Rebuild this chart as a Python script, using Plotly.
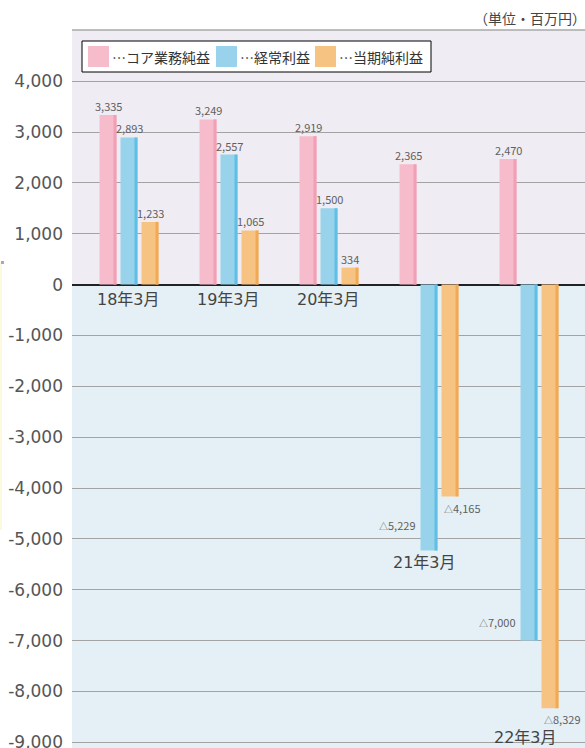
import plotly.graph_objects as go

# ---------------- data ----------------
categories = ["18年3月", "19年3月", "20年3月", "21年3月", "22年3月"]
series_names = ["コア業務純益", "経常利益", "当期純利益"]
core_profit = [3335, 3249, 2919, 2365, 2470]
ordinary_profit = [2893, 2557, 1500, -5229, -7000]
net_profit = [1233, 1065, 334, -4165, -8329]
y_ticks = [4000, 3000, 2000, 1000, 0, -1000, -2000, -3000, -4000, -5000, -6000, -7000, -8000, -9000]
unit_label = "（単位・百万円）"

# ---------------- styling ----------------
series_values = [core_profit, ordinary_profit, net_profit]
fill_colors = ["#f7bccb", "#98d3eb", "#f7c383"]
edge_colors = ["#f19fb4", "#5fbfe4", "#f0aa55"]
offsets = [-0.21, 0.0, 0.21]
BW = 0.17
EDGE = 0.03
FONT = "Noto Sans CJK JP, Noto Sans, sans-serif"
FONT_WIDE = "DejaVu Sans, Noto Sans CJK JP, sans-serif"
TXT = "#555555"
VAL_TXT = "#5f5f5f"

# plot-area geometry (pixels)
W, H = 585, 748
L, T = 72, 30
PW, PH = W - L, H - T
PX_PER_K = 50.85
ZERO_PX = 284.6
YMAX = (ZERO_PX - T) / PX_PER_K * 1000
YMIN = -(H - ZERO_PX) / PX_PER_K * 1000

fig = go.Figure()

for k in range(3):
    fig.add_trace(go.Bar(
        x=list(range(len(categories))), y=series_values[k], name=series_names[k],
        width=BW, offset=offsets[k] - BW / 2,
        marker=dict(color=fill_colors[k], line=dict(width=0)),
        showlegend=False, hoverinfo="y",
    ))
    fig.add_trace(go.Bar(
        x=list(range(len(categories))), y=series_values[k], name=series_names[k] + "_edge",
        width=EDGE, offset=offsets[k] + BW / 2 - EDGE,
        marker=dict(color=edge_colors[k], line=dict(width=0)),
        showlegend=False, hoverinfo="skip",
    ))

annotations = []

# value labels
neg_place = {
    (1, 3): dict(dx=-0.115, xanchor="right", yanchor="middle", yshift=25),
    (2, 3): dict(dx=-0.085, xanchor="left", yanchor="top", yshift=-2),
    (1, 4): dict(dx=-0.115, xanchor="right", yanchor="middle", yshift=19),
    (2, 4): dict(dx=-0.085, xanchor="left", yanchor="top", yshift=-1),
}
for k in range(3):
    for i, v in enumerate(series_values[k]):
        cx = i + offsets[k]
        if v >= 0:
            annotations.append(dict(
                x=cx, y=v, xref="x", yref="y", text=f"{v:,}", showarrow=False,
                xanchor="center", yanchor="bottom", yshift=-1,
                font=dict(family=FONT, size=11, color=VAL_TXT),
            ))
        else:
            p = neg_place[(k, i)]
            annotations.append(dict(
                x=cx + p["dx"], y=v,
                xref="x", yref="y",
                text=f"<span style='font-size:9px'>△</span>{abs(v):,}",
                showarrow=False,
                xanchor=p["xanchor"], yanchor=p["yanchor"], yshift=p["yshift"],
                font=dict(family=FONT, size=11, color=VAL_TXT),
            ))

# category labels
cat_yshift = [-3, -3, -3, -1, -18]
cat_xshift = [-1, -1, -1, -5, -4]
for i, c in enumerate(categories):
    low = min(0, core_profit[i], ordinary_profit[i], net_profit[i])
    annotations.append(dict(
        x=i, y=low, xref="x", yref="y", text=c, showarrow=False,
        xanchor="center", yanchor="top", yshift=cat_yshift[i], xshift=cat_xshift[i],
        font=dict(family=FONT_WIDE, size=16, color="#444444"),
    ))

# unit label
annotations.append(dict(
    x=1, y=(H - 18) / PH, xref="paper", yref="paper", text=unit_label, showarrow=False,
    xanchor="right", yanchor="middle", xshift=3,
    font=dict(family=FONT, size=14, color="#444444"),
))

def px(xp):
    return (xp - L) / PW

def py(yp):
    return (H - yp) / PH

shapes = [
    # backgrounds
    dict(type="rect", xref="paper", yref="y", x0=0, x1=1, y0=0, y1=YMAX,
         fillcolor="#efecf3", line=dict(width=0), layer="below"),
    dict(type="rect", xref="paper", yref="y", x0=0, x1=1, y0=YMIN, y1=0,
         fillcolor="#e4f0f6", line=dict(width=0), layer="below"),
    # top border
    dict(type="line", xref="paper", yref="paper", x0=0, x1=1, y0=1, y1=1,
         line=dict(color="#a8a8a8", width=1.5)),
    # left decoration
    dict(type="rect", xref="paper", yref="paper", x0=px(0), x1=px(2), y0=py(530), y1=py(262),
         fillcolor="#fdf9dc", line=dict(width=0)),
    dict(type="rect", xref="paper", yref="paper", x0=px(1), x1=px(4), y0=py(264), y1=py(261),
         fillcolor="#a9a4cf", line=dict(width=0)),
]

# manual legend
shapes.append(dict(type="rect", xref="paper", yref="paper",
                   x0=px(82), x1=px(431), y0=py(72), y1=py(41),
                   fillcolor="white", line=dict(color="black", width=1)))
sw_x = [88, 216, 315]
for k in range(3):
    shapes.append(dict(type="rect", xref="paper", yref="paper",
                       x0=px(sw_x[k]), x1=px(sw_x[k] + 21), y0=py(67), y1=py(46),
                       fillcolor=fill_colors[k], line=dict(width=0)))
    annotations.append(dict(
        x=px(sw_x[k] + 22), y=py(56.5), xref="paper", yref="paper",
        text="…" + series_names[k], showarrow=False, xanchor="left", yanchor="middle",
        font=dict(family=FONT, size=14, color="#333333"),
    ))

fig.update_layout(
    width=W, height=H,
    margin=dict(l=L, r=0, t=T, b=0, autoexpand=False),
    paper_bgcolor="white", plot_bgcolor="#e4f0f6",
    barmode="group",
    showlegend=False,
    xaxis=dict(range=[-0.57, 4.56], showticklabels=False, showgrid=False,
               zeroline=False, fixedrange=True, automargin=False),
    yaxis=dict(range=[YMIN, YMAX], tickvals=y_ticks,
               ticktext=[f"{v:,}" for v in y_ticks],
               tickfont=dict(family=FONT_WIDE, size=17, color=TXT),
               showgrid=True, gridcolor="#a3a3a3", gridwidth=1.2,
               zeroline=True, zerolinecolor="#222222", zerolinewidth=1.5,
               ticks="", ticklabelstandoff=8, ticklabeloverflow="allow",
               automargin=False),
    shapes=shapes,
    annotations=annotations,
)

fig.write_html(
    "out.html",
    config={"displayModeBar": False},
    post_script="document.body.style.margin='0';document.body.style.padding='0';"
                "document.body.style.overflow='hidden';",
)
